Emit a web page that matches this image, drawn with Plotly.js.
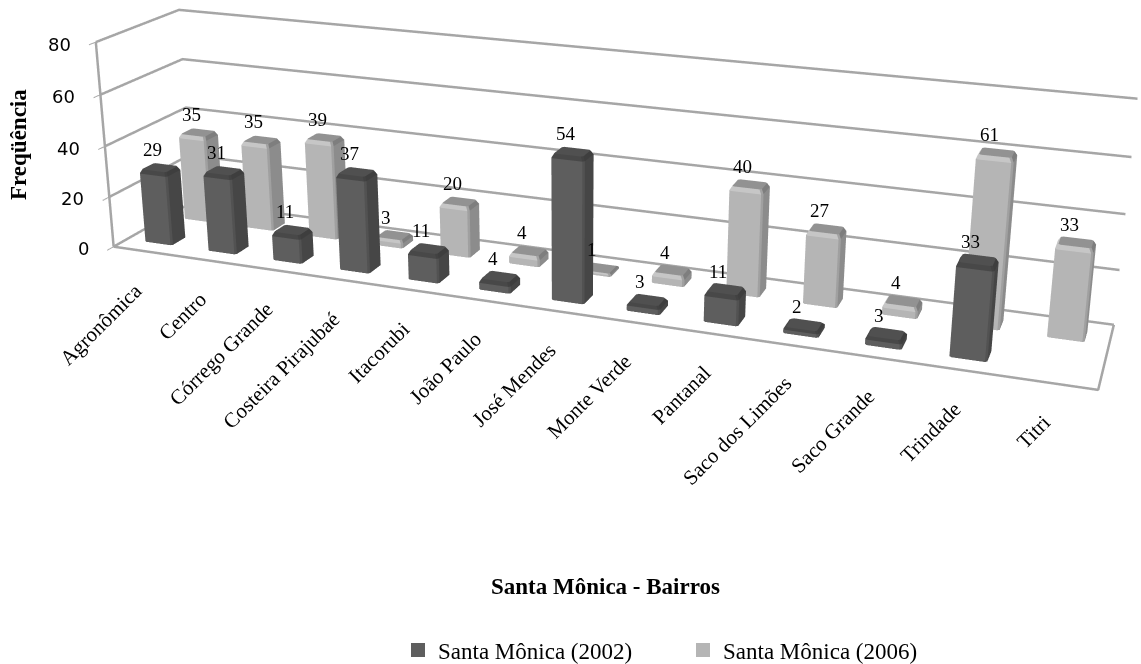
<!DOCTYPE html>
<html><head><meta charset="utf-8"><script src="https://cdn.plot.ly/plotly-3.0.1.min.js"></script>
<style>html,body{margin:0;padding:0;background:#fff;overflow:hidden}#w{position:absolute;left:0;top:0;width:1141px;height:664px;overflow:hidden}</style></head>
<body><div id="w"><div id="g" style="position:absolute;left:0"></div></div>
<script>
const categories=['Agronômica','Centro','Córrego Grande','Costeira Pirajubaé','Itacorubi','João Paulo','José Mendes','Monte Verde','Pantanal','Saco dos Limões','Saco Grande','Trindade','Titri'];
const values2002=[29,31,11,37,11,4,54,3,11,2,3,33,null];
const values2006=[35,35,39,3,20,4,1,4,40,27,4,61,33];
const seriesNames=['Santa Mônica (2002)','Santa Mônica (2006)'];
const zTicks=[0,20,40,60,80];

const W=1141,Hf=1499,T=554;
const p=[1.8353,-4.9916,1.7592,-0.0752,0.0591,-0.0841,3.1760,0.4892,0.7000];
document.getElementById('g').style.top=(-T)+'px';
const py=y=>1-(y+T)/Hf;

const bw=.22,bd=.18,cut=.025;
const DARK={front:'#5e5e5e',mid:'#525252',right:'#464646',left:'#555555',top:'#505050',bev:'#484848',bevM:'#424242',bevR:'#3e3e3e'};
const LIGHT={front:'#b5b5b5',mid:'#a0a0a0',right:'#8c8c8c',left:'#aaaaaa',top:'#929292',bev:'#c6c6c6',bevM:'#a2a2a2',bevR:'#7e7e7e'};
function bars(vals,row,col){const X=[],Y=[],Z=[],I=[],J=[],K=[],C=[];
 vals.forEach((v,n)=>{if(v==null)return;const x=n+.5,y=row+.5,b=X.length,d=Math.min(1.5,v*.35),ins=.03;
  const ring=(h,w,dd)=>{const c=cut;[[-w+c,-dd],[w-c,-dd],[w,-dd+c],[w,dd-c],[w-c,dd],[-w+c,dd],[-w,dd-c],[-w,-dd+c]].forEach(o=>{X.push(x+o[0]);Y.push(y+o[1]);Z.push(h)})};
  ring(0,bw,bd);ring(v-d,bw,bd);ring(v,bw-ins,bd-ins);
  const tri=(a,e,f,color)=>{I.push(a);J.push(e);K.push(f);C.push(color)};
  const quad=(a,e,f,g,color)=>{tri(a,e,f,color);tri(a,f,g,color)};
  const sideC=[col.front,col.mid,col.right,col.right,col.left,col.left,col.left,col.front];
  const bevC=[col.bev,col.bevM,col.bevR,col.bevR,col.bev,col.bev,col.bev,col.bev];
  for(let s=0;s<8;s++){const s2=(s+1)%8;quad(b+s,b+s2,b+8+s2,b+8+s,sideC[s]);quad(b+8+s,b+8+s2,b+16+s2,b+16+s,bevC[s])}
  for(let s=1;s<7;s++)tri(b+16,b+16+s,b+16+s+1,col.top);
 });return{x:X,y:Y,z:Z,i:I,j:J,k:K,facecolor:C}}
const lit={ambient:1,diffuse:0,specular:0,roughness:1,fresnel:0};
const m0=Object.assign({type:'mesh3d',flatshading:true,lighting:lit,hoverinfo:'skip',showlegend:false},bars(values2002,0,DARK));
const m1=Object.assign({type:'mesh3d',flatshading:true,lighting:lit,hoverinfo:'skip',showlegend:false},bars(values2006,1,LIGHT));
const leg=(n,c)=>({type:'scatter3d',mode:'markers',x:[null],y:[null],z:[null],name:n,showlegend:true,marker:{symbol:'square',size:14,color:c}});
const lc='#a6a6a6';
// wall grid (one level per z tick: left wall then back wall) plus floor outline and front axis
const gx=[],gy=[],gz=[];
zTicks.forEach(t=>{gx.push(0,0,13,null);gy.push(0,2,2,null);gz.push(t,t,t,null)});
gx.push(0,13,13,null,0,0);gy.push(0,0,2,null,0,0);gz.push(0,0,0,null,0,zTicks[zTicks.length-1]);
const grid={type:'scatter3d',mode:'lines',x:gx,y:gy,z:gz,connectgaps:false,line:{color:lc,width:5},hoverinfo:'skip',showlegend:false};
const serif='"Liberation Serif",serif';
const ann=[];
const valFont={family:serif,size:19,color:'#000'};
values2002.forEach((v,n)=>{if(v!=null)ann.push({x:n+.5,y:.5,z:v,text:String(v),showarrow:false,xshift:-7,yshift:18,font:valFont})});
values2006.forEach((v,n)=>ann.push({x:n+.5,y:1.5,z:v,text:String(v),showarrow:false,xshift:-7,yshift:18,font:valFont}));
categories.forEach((c,n)=>ann.push({x:n+.5,y:0,z:0,text:c,showarrow:false,textangle:-45,xanchor:'right',yanchor:'top',xshift:5,yshift:-24,font:{family:serif,size:21,color:'#000'}}));
zTicks.forEach(t=>ann.push({x:0,y:0,z:t,text:String(t),showarrow:false,xanchor:'right',xshift:-23,yshift:-2,font:{family:'"DejaVu Sans",sans-serif',size:18,color:'#000'}}));
const ax=o=>Object.assign({showbackground:false,showspikes:false,title:{text:''},zeroline:false},o);
Plotly.newPlot('g',[grid,m0,m1,leg(seriesNames[0],'#5e5e5e'),leg(seriesNames[1],'#b5b5b5')],{width:W,height:Hf,margin:{l:0,r:0,t:0,b:0},paper_bgcolor:'#fff',font:{family:serif},
 showlegend:true,legend:{orientation:'h',x:398/W,xanchor:'left',y:py(650),yanchor:'middle',font:{family:serif,size:23,color:'#000'},entrywidth:240,entrywidthmode:'pixels',bgcolor:'rgba(0,0,0,0)'},
 annotations:[{xref:'paper',yref:'paper',x:18/W,y:py(145),xanchor:'center',yanchor:'middle',text:'<b>Freqüência</b>',textangle:-90,showarrow:false,font:{family:serif,size:23,color:'#000'}},
  {xref:'paper',yref:'paper',x:605/W,y:py(586),xanchor:'center',yanchor:'middle',text:'<b>Santa Mônica - Bairros</b>',showarrow:false,font:{family:serif,size:23,color:'#000'}}],
 scene:{domain:{x:[0,1],y:[0,1]},aspectmode:'manual',aspectratio:{x:p[6],y:p[7],z:p[8]},camera:{eye:{x:p[0],y:p[1],z:p[2]},center:{x:p[3],y:p[4],z:p[5]},up:{x:0,y:0,z:1},projection:{type:'perspective'}},annotations:ann,
  xaxis:ax({range:[0,13],showgrid:false,showticklabels:false,ticks:''}),
  yaxis:ax({range:[0,2],showgrid:false,showticklabels:false,ticks:''}),
  zaxis:ax({range:[0,80],tickvals:zTicks,showticklabels:false,showgrid:false,showline:false,ticks:'outside',ticklen:4,tickwidth:2,tickcolor:lc})}},{displayModeBar:false});
</script></body></html>
